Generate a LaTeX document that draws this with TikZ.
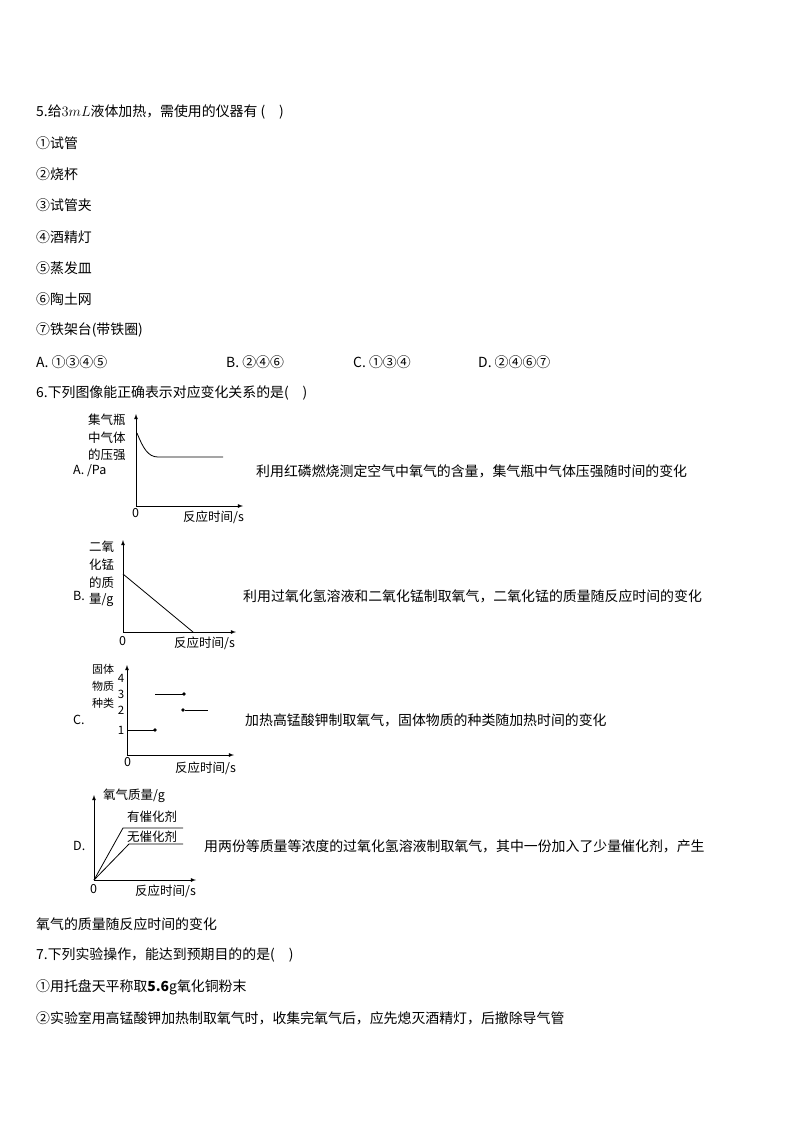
\documentclass[tikz,border=0pt]{standalone}
\usepackage{fontspec}
\setmainfont{Noto Sans CJK SC}
\usetikzlibrary{positioning}
\tikzset{
  txt/.style={anchor=west,inner sep=0pt,font=\fontsize{13.9}{15}\selectfont},
  lab/.style={anchor=west,inner sep=0pt,font=\fontsize{12.5}{14}\selectfont},
  axis/.style={thick,-latex},
  dot/.style={circle,fill=black,inner sep=1.4pt}
}
\begin{document}
\begin{tikzpicture}[x=1pt,y=-1pt]
\useasboundingbox (0,0) rectangle (794,1123);
% question 5
\node[txt] (q5) at (36,112) {5.给$3mL$液体加热，需使用的仪器有 (\quad)};
\foreach \t [count=\i] in {①试管,②烧杯,③试管夹,④酒精灯,⑤蒸发皿,⑥陶土网,⑦铁架台(带铁圈)}
  \node[txt] (i\i) at (36,112+31.2*\i) {\t};
\node[txt] (o5a) at (36,362) {A. ①③④⑤};
\node[txt] (o5b) at (226,362) {B. ②④⑥};
\node[txt] (o5c) at (353,362) {C. ①③④};
\node[txt] (o5d) at (478,362) {D. ②④⑥⑦};
% question 6
\node[txt] (q6) at (36,393) {6.下列图像能正确表示对应变化关系的是(\quad)};
% graph A
\coordinate (oa) at (136,506);
\draw[axis] (oa) -- (136,414);
\draw[axis] (oa) -- (243,506);
\draw[thick] (137,433) .. controls (143,448) and (148,457) .. (158,457) -- (223,457);
\node[lab] at (88,420) {集气瓶};
\node[lab] at (88,438) {中气体};
\node[lab] at (88,455) {的压强};
\node[lab] at (73,471) {A. /Pa};
\node[lab] at (132,513) {0};
\node[lab] at (183,517) {反应时间/s};
\node[txt] (ta) at (256,471) {利用红磷燃烧测定空气中氧气的含量，集气瓶中气体压强随时间的变化};
% graph B
\coordinate (ob) at (123,632);
\draw[axis] (ob) -- (123,540);
\draw[axis] (ob) -- (236,632);
\draw[thick] (123,574) -- (193,632);
\node[lab] at (89,547) {二氧};
\node[lab] at (89,565) {化锰};
\node[lab] at (89,583) {的质};
\node[lab] at (89,600) {量/g};
\node[lab] at (73,596) {B.};
\node[lab] at (119,641) {0};
\node[lab] at (174,643) {反应时间/s};
\node[txt] (tb) at (243,596) {利用过氧化氢溶液和二氧化锰制取氧气，二氧化锰的质量随反应时间的变化};
% graph C
\coordinate (oc) at (127,755);
\draw[axis] (oc) -- (127,665);
\draw[axis] (oc) -- (234,755);
\foreach \n/\y in {4/678,3/694,2/710,1/730}
  \node[lab,anchor=center,font=\fontsize{11.5}{12}\selectfont] at (121,\y) {\n};
\draw[thick] (127,730) -- (155,730) node[dot] (d1) {};
\draw[thick] (155,694) -- (184,694) node[dot] (d3) {};
\node[dot] (d2) at (183,710) {};
\draw[thick] (d2) -- (208,710);
\node[lab,font=\fontsize{11}{12}\selectfont] at (92,669) {固体};
\node[lab,font=\fontsize{11}{12}\selectfont] at (92,686) {物质};
\node[lab,font=\fontsize{11}{12}\selectfont] at (92,703) {种类};
\node[lab] at (73,720) {C.};
\node[lab] at (124,762) {0};
\node[lab] at (175,768) {反应时间/s};
\node[txt] (tc) at (245,720) {加热高锰酸钾制取氧气，固体物质的种类随加热时间的变化};
% graph D
\coordinate (od) at (94,880);
\draw[axis] (od) -- (94,795);
\draw[axis] (od) -- (196,880);
\draw[thick] (od) -- (123,828) -- (183,828);
\draw[thick] (od) -- (129,844) -- (183,844);
\node[lab] at (103,796) {氧气质量/g};
\node[lab] at (127,817) {有催化剂};
\node[lab] at (127,837) {无催化剂};
\node[lab] at (73,846) {D.};
\node[lab] at (90,889) {0};
\node[lab] at (135,891) {反应时间/s};
\node[txt] (td) at (204,846) {用两份等质量等浓度的过氧化氢溶液制取氧气，其中一份加入了少量催化剂，产生};
\node[txt] (td2) at (36,924) {氧气的质量随反应时间的变化};
% question 7
\node[txt] (q7) at (36,955) {7.下列实验操作，能达到预期目的的是(\quad)};
\node[txt] (s1) at (36,987) {①用托盘天平称取\textbf{5.6}$\mathbf{\mathit{g}}$氧化铜粉末};
\node[txt] (s2) at (36,1018) {②实验室用高锰酸钾加热制取氧气时，收集完氧气后，应先熄灭酒精灯，后撤除导气管};
\end{tikzpicture}
\end{document}
